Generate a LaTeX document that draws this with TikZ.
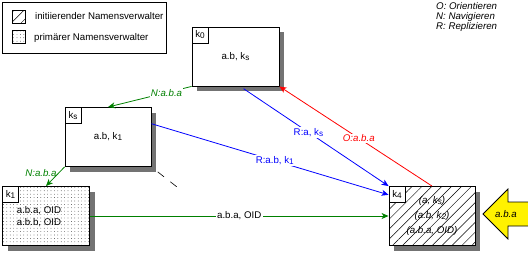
\documentclass[tikz,border=0pt]{standalone}
\usepackage{fontspec}
\setmainfont{Liberation Sans}
\usetikzlibrary{shadows,patterns.meta,arrows.meta}

\definecolor{navgreen}{RGB}{0,128,0}
\definecolor{repblue}{RGB}{0,0,255}
\definecolor{orired}{RGB}{255,0,0}
\newcommand{\ksub}[1]{\raisebox{-0.2ex}{\fontsize{8.2}{9}\selectfont #1}}

\begin{document}
\begin{tikzpicture}[x=1pt, y=-1pt,
    txt/.style={font=\fontsize{9.7}{12}\selectfont, inner sep=1pt},
    itxt/.style={font=\fontsize{9.7}{12}\selectfont\itshape, inner sep=1pt},
    box/.style={draw, line width=0.9pt, minimum width=87pt, minimum height=59pt, inner sep=0pt, txt,
        drop shadow={shadow xshift=5pt, shadow yshift=-5pt, fill=black!55, opacity=1}, preaction={fill=white}},
    tag/.style={draw, line width=0.9pt, fill=white, minimum size=16pt, inner sep=0pt, anchor=north west, txt},
    hatched/.style={pattern={Lines[angle=45, distance=7pt, line width=0.5pt]}},
    dotted/.style={pattern={Dots[distance=3.4pt, radius=0.35pt]}},
    arrow/.style={line width=0.8pt, -{Stealth[length=7pt, width=6pt, inset=2pt]}},
    narrow/.style={arrow, color=navgreen},
    rarrow/.style={arrow, color=repblue},
    oarrow/.style={arrow, color=orired},
    onlabel/.style={txt, fill=white, inner sep=1.5pt}]

    \useasboundingbox (0,0) rectangle (528,252);

    % legend
    \node (legend) [draw, line width=0.9pt, minimum width=164pt, minimum height=51pt, anchor=north west] at (2,2) {};
    \node (hatchkey) [draw, line width=0.8pt, minimum size=13pt, inner sep=0pt, hatched] at (19.3,16.5) {};
    \node (dotkey) [draw, line width=0.8pt, minimum size=13pt, inner sep=0pt, dotted] at (19.3,37.3) {};
    \node (hatchtext) [txt, anchor=west] at (34,16.5) {initiierender Namensverwalter};
    \node (dottext) [txt, anchor=west] at (33,37.5) {primärer Namensverwalter};

    \node (okey) [itxt, anchor=west] at (435,6) {O: Orientieren};
    \node (nkey) [itxt, anchor=west] at (435,16.5) {N: Navigieren};
    \node (rkey) [itxt, anchor=west] at (435,27) {R: Replizieren};

    % name servers
    \node (k0) [box] at (235.5,56.5) {a.b, k\ksub{s}};
    \node (ks) [box, minimum width=86pt] at (108,137) {a.b, k\ksub{1}};
    \node (k1) [box, dotted] at (46,216) {};
    \node (k1text) [txt, align=center, font=\fontsize{9.7}{12}\selectfont] at (39,217) {a.b.a, OID\\a.b.b, OID};
    \node (k4) [box, hatched, minimum width=86pt, align=center, font=\fontsize{9.7}{15}\selectfont\itshape] at (432,216)
        {(a, k\ksub{s})\\(a.b, k\ksub{2})\\(a.b.a, OID)};

    \node (k0tag) [tag] at (k0.north west) {k\ksub{0}};
    \node (kstag) [tag] at (ks.north west) {k\ksub{s}};
    \node (k1tag) [tag] at (k1.north west) {k\ksub{1}};
    \node (k4tag) [tag] at (k4.north west) {k\ksub{4}};

    % request
    \draw [line width=0.8pt, fill=yellow] (483,214) -- (508,189) -- (508,202) -- (530,202)
        -- (530,226) -- (508,226) -- (508,239) -- cycle;
    \node (request) [itxt] at (506,214) {a.b.a};

    % messages
    \draw [narrow] (k0.south west) -- node [onlabel, itxt, fill=white, pos=0.3] {N:a.b.a} (ks.north);
    \draw [narrow] (ks.south west) -- node [itxt, pos=0.3, left=1pt, text=navgreen] {N:a.b.a} (k1.north);
    \draw [rarrow, shorten <=4pt] (k0.-81) -- node [onlabel, pos=0.46] {R:a, k\ksub{s}} (k4.north west);
    \draw [rarrow] (ks.17) -- node [onlabel, pos=0.52] {R:a.b, k\ksub{1}} (k4.154);
    \draw [oarrow] (k4.north) -- node [onlabel, itxt, fill=white, pos=0.48] {O:a.b.a} (k0.south east);
    \draw [narrow] (k1.east) -- node [onlabel, text=black] {a.b.a, OID} (k4.west);

    \coordinate (stubend) at (177,187);
    \draw [line width=0.6pt, dash pattern=on 8pt off 8pt, shorten <=8pt] (ks.south east) -- (stubend);
\end{tikzpicture}
\end{document}
